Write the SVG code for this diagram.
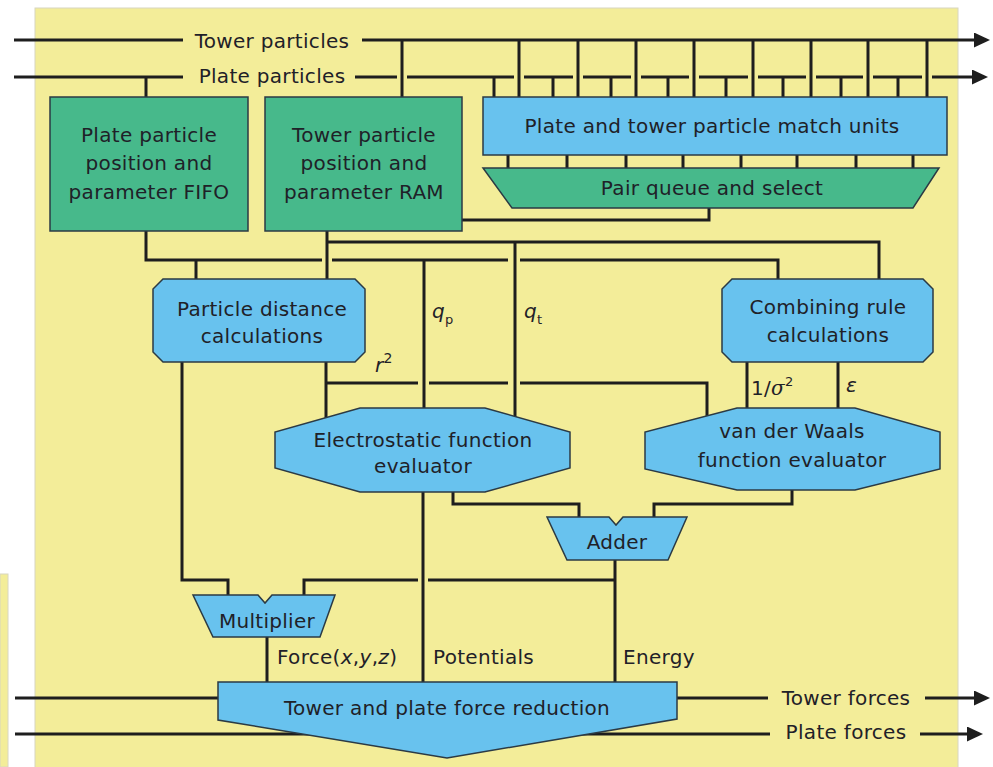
<svg xmlns="http://www.w3.org/2000/svg" width="993" height="767" viewBox="0 0 993 767">
<style>
.w{stroke:#1e1e1e;stroke-width:3;fill:none;stroke-linejoin:miter}
.blue{fill:#68C2EE;stroke:#2b3a44;stroke-width:1.5}
.green{fill:#47B98B;stroke:#2b3a44;stroke-width:1.5}
text{font-family:"DejaVu Sans","Liberation Sans",sans-serif;font-size:20px;fill:#1f2128;letter-spacing:0.3px}
.c{text-anchor:middle}
.it{font-style:italic}
</style>
<defs>
<marker id="arr" markerUnits="userSpaceOnUse" markerWidth="18" markerHeight="16" refX="6" refY="7.5" orient="auto">
<path d="M0,0 L16,7.5 L0,15 z" fill="#1e1e1e"/>
</marker>
</defs>
<rect x="0" y="0" width="993" height="767" fill="#ffffff"/>
<rect x="0" y="574" width="8" height="193" fill="#F3ED99" stroke="#d8d6c0" stroke-width="1"/>
<rect x="35" y="8" width="923" height="760" fill="#F3ED99" stroke="#d8d6c0" stroke-width="1"/>

<g id="connectors">
<path class="w" d="M14,40 H183 M362,40 H980" marker-end="url(#arr)"/>
<path class="w" d="M14,77 H183 M355,77 H397 M407,77 H514 M524,77 H573 M583,77 H631 M641,77 H689 M699,77 H748 M758,77 H806 M816,77 H863 M873,77 H922 M932,77 H978" marker-end="url(#arr)"/>
<path class="w" d="M402,40 V97 M519,40 V97 M578,40 V97 M636,40 V97 M694,40 V97 M753,40 V97 M811,40 V97 M868,40 V97 M927,40 V97"/>
<path class="w" d="M146,77 V97 M494,77 V97 M553,77 V97 M611,77 V97 M668,77 V97 M726,77 V97 M783,77 V97 M841,77 V97 M898,77 V97"/>
<path class="w" d="M508,155 V168 M567,155 V168 M626,155 V168 M683,155 V168 M741,155 V168 M797,155 V168 M856,155 V168 M913,155 V168"/>
<path class="w" d="M709,208 V220 H462"/>
<path class="w" d="M146,231 V260 H322 M332,260 H508 M520,260 H778 V280"/>
<path class="w" d="M196,260 V280 M424,260 V408"/>
<path class="w" d="M327,231 V280 M327,242 H879 V280 M515,242 V417"/>
<path class="w" d="M326,362 V418 M326,383 H418 M429,383 H508 M520,383 H707 V416"/>
<path class="w" d="M182,362 V580 H228 V595"/>
<path class="w" d="M304,595 V580 H418 M428,580 H615"/>
<path class="w" d="M423,492 V682 M267,637 V682 M615,560 V682"/>
<path class="w" d="M453,492 V504 H579 V517 M792,490 V504 H654 V517"/>
<path class="w" d="M747,362 V408 M838,362 V408"/>
<path class="w" d="M15,698 H218 M677,698 H768 M925,698 H980" marker-end="url(#arr)"/>
<path class="w" d="M15,734 H770 M920,734 H973" marker-end="url(#arr)"/>
</g>

<g id="lbl-top">
<text x="272" y="48" class="c">Tower particles</text>
<text x="272" y="83" class="c">Plate particles</text>
</g>

<g id="fifo">
<rect class="green" x="50" y="97" width="198" height="134"/>
<text x="149" y="142" class="c">Plate particle</text>
<text x="149" y="170" class="c">position and</text>
<text x="149" y="199" class="c">parameter FIFO</text>
</g>
<g id="ram">
<rect class="green" x="265" y="97" width="197" height="134"/>
<text x="364" y="142" class="c">Tower particle</text>
<text x="364" y="170" class="c">position and</text>
<text x="364" y="199" class="c">parameter RAM</text>
</g>
<g id="match">
<rect class="blue" x="483" y="97" width="464" height="58"/>
<text x="712" y="133" class="c">Plate and tower particle match units</text>
</g>
<g id="pairq">
<polygon class="green" points="483,168 939,168 913,208 512,208"/>
<text x="712" y="195" class="c">Pair queue and select</text>
</g>
<g id="distance">
<polygon class="blue" points="163,279 355,279 365,289 365,352 355,362 163,362 153,352 153,289"/>
<text x="262" y="316" class="c">Particle distance</text>
<text x="262" y="343" class="c">calculations</text>
</g>
<g id="combining">
<polygon class="blue" points="732,279 923,279 933,289 933,352 923,362 732,362 722,352 722,289"/>
<text x="828" y="314" class="c">Combining rule</text>
<text x="828" y="342" class="c">calculations</text>
</g>
<g id="lbl-q">
<text x="432" y="318" class="it">q<tspan dy="6" font-size="13" font-style="normal">p</tspan></text>
<text x="524" y="318" class="it">q<tspan dy="6" font-size="13" font-style="normal">t</tspan></text>
<text x="375" y="372" class="it">r<tspan dy="-9" font-size="14" font-style="normal">2</tspan></text>
<text x="751" y="395">1/<tspan class="it" font-family="DejaVu Serif">σ</tspan><tspan dy="-9" font-size="13">2</tspan></text>
<text x="846" y="392" class="it" font-family="DejaVu Serif">ε</text>
</g>
<g id="electro">
<polygon class="blue" points="360,408 485,408 570,432 570,468 485,492 360,492 275,468 275,432"/>
<text x="423" y="447" class="c">Electrostatic function</text>
<text x="423" y="473" class="c">evaluator</text>
</g>
<g id="vdw">
<polygon class="blue" points="737,408 855,408 940,432 940,469 855,490 737,490 645,469 645,432"/>
<text x="792" y="438" class="c">van der Waals</text>
<text x="792" y="467" class="c">function evaluator</text>
</g>
<g id="adder">
<polygon class="blue" points="547,517 609,517 616,525 623,517 687,517 668,560 567,560"/>
<text x="617" y="549" class="c">Adder</text>
</g>
<g id="multiplier">
<polygon class="blue" points="193,595 258,595 265,603 272,595 335,595 320,637 213,637"/>
<text x="267" y="628" class="c">Multiplier</text>
</g>
<g id="lbl-out">
<text x="277" y="664">Force(<tspan class="it">x</tspan>,<tspan class="it">y</tspan>,<tspan class="it">z</tspan>)</text>
<text x="433" y="664">Potentials</text>
<text x="623" y="664">Energy</text>
</g>
<g id="reduction">
<polygon class="blue" points="218,682 677,682 677,719 447,758 218,720"/>
<text x="447" y="715" class="c">Tower and plate force reduction</text>
</g>
<g id="lbl-bottom">
<text x="846" y="705" class="c">Tower forces</text>
<text x="846" y="739" class="c">Plate forces</text>
</g>
</svg>
